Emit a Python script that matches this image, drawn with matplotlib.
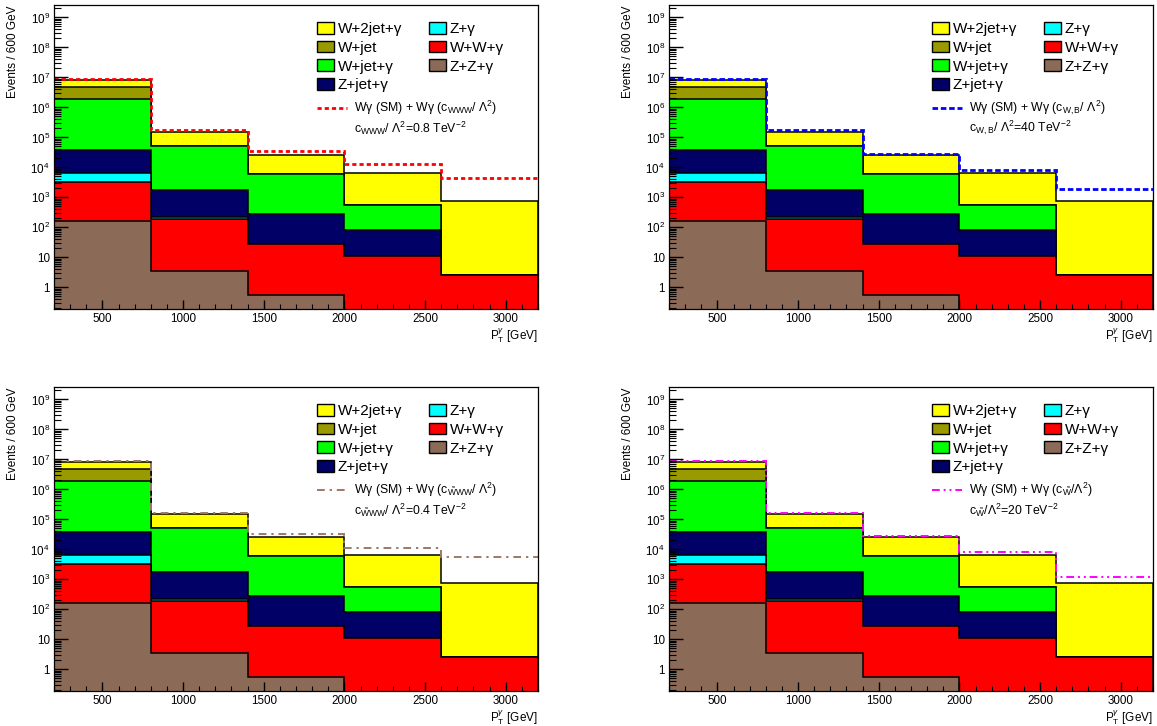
import numpy as np
import matplotlib
matplotlib.use("Agg")
import matplotlib.pyplot as plt
from matplotlib.ticker import FixedLocator, MultipleLocator, FuncFormatter, NullFormatter
from matplotlib.patches import Patch
from matplotlib.lines import Line2D

plt.rcParams['font.family'] = ['Liberation Sans', 'DejaVu Sans']
plt.rcParams['mathtext.fontset'] = 'custom'
plt.rcParams['mathtext.rm'] = 'Liberation Sans'
plt.rcParams['mathtext.it'] = 'Liberation Sans:italic'
plt.rcParams['mathtext.bf'] = 'Liberation Sans:bold'

# photon pT bins, 600 GeV wide
bin_edges = [200, 800, 1400, 2000, 2600, 3200]

# background yields per bin (bottom of the stack first)
zzg = [166, 3.4, 0.57, 0, 0]
wwg = [3000, 187, 28, 11, 2.6]
zg = [3340, 38, 0, 0, 0]
zjg = [30500, 1520, 258, 73, 0]
wjg = [1.86e6, 49750, 5860, 466, 0]
wj = [2.9e6, 0, 0, 0, 0]
w2jg = [3.6e6, 99500, 18850, 5750, 732]

bkg_names = ['Z+Z+γ', 'W+W+γ', 'Z+γ', 'Z+jet+γ', 'W+jet+γ', 'W+jet', 'W+2jet+γ']
bkg_colors = ['#8b6a58', '#ff0000', '#00ffff', '#000066', '#00ff00', '#999900', '#ffff00']

# SM + anomalous coupling signal totals, one per panel
sig_cwww = [8.9e6, 1.71e5, 3.4e4, 1.26e4, 4500]
sig_cwb = [8.9e6, 1.7e5, 2.9e4, 8300, 1950]
sig_ctwww = [8.6e6, 1.63e5, 3.2e4, 1.1e4, 5700]
sig_ctw = [8.6e6, 1.67e5, 2.9e4, 8500, 1190]

y_decades = [1, 10, 1e2, 1e3, 1e4, 1e5, 1e6, 1e7, 1e8, 1e9]

panels = [
    (sig_cwww, '#ff0000', (0, (1.5, 1.1)), 2.0,
     r'Wγ (SM) + Wγ (c$_{\mathrm{WWW}}$/ Λ$^{2}$)',
     r'c$_{\mathrm{WWW}}$/ Λ$^{2}$=0.8 TeV$^{-2}$'),
    (sig_cwb, '#0000ff', (0, (2, 1)), 2.0,
     r'Wγ (SM) + Wγ (c$_{\mathrm{W,B}}$/ Λ$^{2}$)',
     r'c$_{\mathrm{W,B}}$/ Λ$^{2}$=40 TeV$^{-2}$'),
    (sig_ctwww, '#a07864', (0, (4, 2.5, 1.2, 2.5)), 1.4,
     r'Wγ (SM) + Wγ (c$_{\tilde{\mathrm{W}}\mathrm{WW}}$/ Λ$^{2}$)',
     r'c$_{\tilde{\mathrm{W}}\mathrm{WW}}$/ Λ$^{2}$=0.4 TeV$^{-2}$'),
    (sig_ctw, '#ff00ff', (0, (4, 2, 1, 2, 1, 2)), 1.4,
     r'Wγ (SM) + Wγ (c$_{\tilde{\mathrm{W}}}$/Λ$^{2}$)',
     r'c$_{\tilde{\mathrm{W}}}$/Λ$^{2}$=20 TeV$^{-2}$'),
]

W, H = 1157, 726
fig = plt.figure(figsize=(W / 100, H / 100), dpi=100)
boxes = [(54, 5), (669, 5), (54, 387), (669, 387)]
aw, ah = 484, 304

stack = np.vstack([zzg, wwg, zg, zjg, wjg, wj, w2jg])
cum = np.cumsum(stack, axis=0)
floor = 1e-6

minor_y = [m * d for d in [0.1] + y_decades for m in range(2, 10)]


def ytick_fmt(v, pos):
    e = int(round(np.log10(v)))
    if e == 0:
        return '1'
    if e == 1:
        return '10'
    return r'$10^{%d}$' % e


for (px, py), (sig, scol, sls, slw, lab1, lab2) in zip(boxes, panels):
    ax = fig.add_axes([px / W, 1 - (py + ah) / H, aw / W, ah / H])
    ax.set_yscale('log')

    # stacked histograms, top layer first so lower ones paint over it
    for k in range(len(bkg_names) - 1, -1, -1):
        vals = np.where(cum[k] > 0, cum[k], floor)
        ax.stairs(vals, bin_edges, baseline=floor, fill=True,
                  facecolor=bkg_colors[k], edgecolor='black', lw=1.1)
    ax.stairs(sig, bin_edges, baseline=None, color=scol, lw=slw, linestyle=sls)

    ax.set_xlim(200, 3200)
    ax.set_ylim(0.19, 2.6e9)

    ax.xaxis.set_major_locator(MultipleLocator(500))
    ax.xaxis.set_minor_locator(MultipleLocator(100))
    ax.yaxis.set_major_locator(FixedLocator(y_decades))
    ax.yaxis.set_minor_locator(FixedLocator([v for v in minor_y if 0.19 < v < 2.6e9]))
    ax.yaxis.set_major_formatter(FuncFormatter(ytick_fmt))
    ax.yaxis.set_minor_formatter(NullFormatter())
    ax.tick_params(which='both', direction='in', top=False, right=False,
                   labelsize=8.4, colors='black')
    ax.tick_params(axis='y', which='major', length=10, width=1, pad=3)
    ax.tick_params(axis='y', which='minor', length=5, width=0.8)
    ax.tick_params(axis='x', which='major', length=6.7, width=1, pad=3)
    ax.tick_params(axis='x', which='minor', length=3.4, width=0.8)
    for s in ax.spines.values():
        s.set_linewidth(0.9)

    ax.set_ylabel('Events / 600 GeV', fontsize=8.5, loc='top')
    ax.yaxis.set_label_coords(-35 / aw, 1.0)
    ax.set_xlabel(r'P$_{\mathrm{T}}^{\gamma}$ [GeV]', fontsize=8.5, loc='right')
    ax.xaxis.set_label_coords(1.0, -0.056)

    # background legend, filled row by row like the original
    order = [6, 5, 4, 3, 2, 1, 0]
    handles = [Patch(facecolor=bkg_colors[i], edgecolor='black', lw=1) for i in order]
    leg = ax.legend(handles, [bkg_names[i] for i in order], ncol=2,
                    loc='upper left', bbox_to_anchor=(0.543, 0.945),
                    frameon=False, fontsize=11, borderpad=0, borderaxespad=0,
                    handlelength=1.15, handleheight=0.82, handletextpad=0.22,
                    columnspacing=1.75, labelspacing=0.3)
    ax.add_artist(leg)

    ax.legend([Line2D([], [], color=scol, lw=slw, linestyle=sls)], [lab1],
              loc='center left', bbox_to_anchor=(0.543, 1 - 103.3 / ah),
              frameon=False, fontsize=8.8, borderpad=0, borderaxespad=0,
              handlelength=2.5, handletextpad=0.55)
    ax.text((354 - 54) / aw, 1 - 123 / ah, lab2, transform=ax.transAxes,
            fontsize=8.8, va='center', ha='left')

fig.savefig('out.png', dpi=100)
